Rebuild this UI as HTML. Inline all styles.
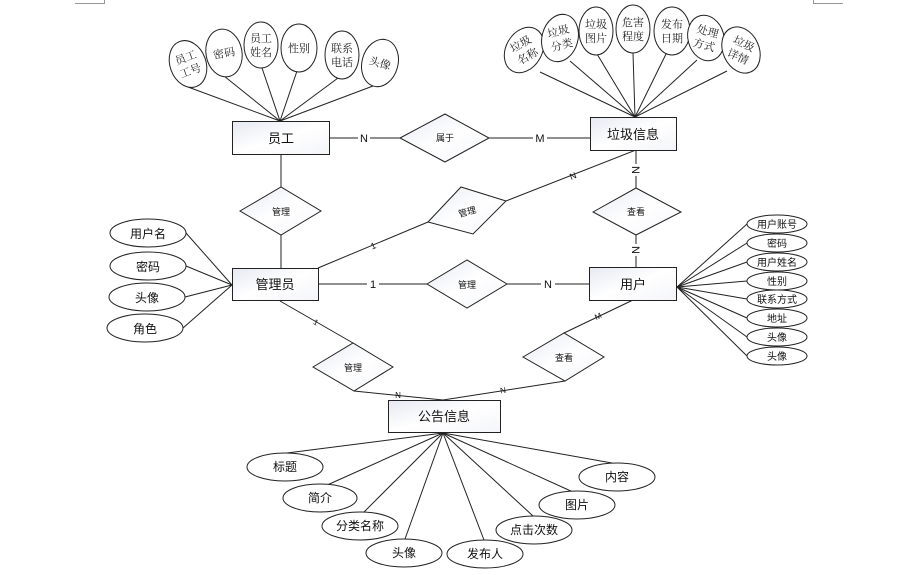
<!DOCTYPE html>
<html><head><meta charset="utf-8"><style>
html,body{margin:0;padding:0;background:#fff;}
svg{display:block;font-family:"Liberation Sans","Noto Sans CJK SC",sans-serif;}
</style></head><body>
<svg width="900" height="575" viewBox="0 0 900 575" xmlns="http://www.w3.org/2000/svg">
<defs>
<linearGradient id="g" x1="0" y1="0" x2="1" y2="1">
<stop offset="0" stop-color="#e6e9f2"/><stop offset="0.5" stop-color="#ffffff"/><stop offset="1" stop-color="#f4f5f9"/>
</linearGradient>
</defs>
<g stroke="#999" stroke-width="1" fill="none">
<polyline points="75,3.5 104.5,3.5 104.5,0"/>
<polyline points="813.5,0 813.5,3.5 843,3.5"/>
</g>
<g stroke="#222" stroke-width="1" fill="none">
<!-- employee fan -->
<line x1="188" y1="87" x2="280" y2="121"/><line x1="224" y1="76" x2="280" y2="121"/>
<line x1="262" y1="68" x2="280" y2="121"/><line x1="297" y1="71" x2="280" y2="121"/>
<line x1="338" y1="78" x2="280" y2="121"/><line x1="373" y1="86" x2="280" y2="121"/>
<!-- garbage fan -->
<line x1="540" y1="72" x2="635" y2="117"/><line x1="570" y1="61" x2="635" y2="117"/>
<line x1="597" y1="54" x2="635" y2="117"/><line x1="633" y1="53" x2="635" y2="117"/>
<line x1="666" y1="54" x2="635" y2="117"/><line x1="697" y1="60" x2="635" y2="117"/>
<line x1="727" y1="71" x2="635" y2="117"/>
<!-- relations -->
<line x1="329" y1="138" x2="400" y2="138"/><line x1="489" y1="138" x2="590" y2="138"/>
<line x1="636" y1="150" x2="636" y2="188"/><line x1="636" y1="235" x2="636" y2="267"/>
<line x1="281" y1="154" x2="281" y2="187"/><line x1="281" y1="235" x2="281" y2="268"/>
<line x1="318" y1="268" x2="428" y2="222"/><line x1="506" y1="201" x2="636" y2="150"/>
<line x1="318" y1="284" x2="427" y2="284"/><line x1="507" y1="284" x2="589" y2="284"/>
<line x1="280" y1="301" x2="353" y2="343"/><line x1="354" y1="391" x2="443" y2="400"/>
<line x1="565" y1="381" x2="443" y2="400"/><line x1="564" y1="333" x2="633" y2="300"/>
<!-- admin attrs -->
<line x1="186" y1="233" x2="232" y2="285"/><line x1="186" y1="266" x2="232" y2="285"/>
<line x1="185" y1="297" x2="232" y2="285"/><line x1="183" y1="328" x2="232" y2="285"/>
<!-- user attrs -->
<line x1="747" y1="224" x2="677" y2="287"/><line x1="747" y1="243" x2="677" y2="287"/>
<line x1="747" y1="262" x2="677" y2="287"/><line x1="747" y1="281" x2="677" y2="287"/>
<line x1="747" y1="299" x2="677" y2="287"/><line x1="747" y1="318" x2="677" y2="287"/>
<line x1="747" y1="337" x2="677" y2="287"/><line x1="747" y1="356" x2="677" y2="287"/>
<!-- notice fan -->
<line x1="287" y1="453" x2="443" y2="433"/><line x1="325" y1="486" x2="443" y2="433"/>
<line x1="363" y1="513" x2="443" y2="433"/><line x1="405" y1="539" x2="443" y2="433"/>
<line x1="484" y1="540" x2="443" y2="433"/><line x1="533" y1="516" x2="443" y2="433"/>
<line x1="573" y1="492" x2="443" y2="433"/><line x1="612" y1="463" x2="443" y2="433"/>
</g>
<!-- entities -->
<g stroke="#222" stroke-width="1" fill="url(#g)">
<rect x="232.5" y="121.5" width="97" height="33"/>
<rect x="590.5" y="117.5" width="86" height="33"/>
<rect x="589.5" y="267.5" width="87" height="33"/>
<rect x="232.5" y="268.5" width="86" height="32"/>
<rect x="388.5" y="400.5" width="112" height="32"/>
<polygon points="400,138 445,114 489,138 445,162"/>
<polygon points="593,212 636,188 681,212 636,235"/>
<polygon points="240,211 281,187 321,211 281,235"/>
<polygon points="428,222 461,187 506,201 473,234"/>
<polygon points="427,284 467,260 507,284 467,308"/>
<polygon points="313,367 353,343 393,367 354,391"/>
<polygon points="523,357 564,333 604,357 565,381"/>
</g>
<!-- ellipses -->
<g stroke="#222" stroke-width="1" fill="#fff">
<ellipse cx="188" cy="64" rx="18" ry="24" transform="rotate(-20 188 64)"/>
<ellipse cx="224" cy="53" rx="18" ry="24" transform="rotate(-10 224 53)"/>
<ellipse cx="261" cy="45" rx="17" ry="23"/>
<ellipse cx="299" cy="48" rx="18" ry="24"/>
<ellipse cx="342" cy="55" rx="17" ry="24"/>
<ellipse cx="380" cy="63" rx="18" ry="24" transform="rotate(15 380 63)"/>
<ellipse cx="524" cy="50" rx="18" ry="24" transform="rotate(30 524 50)"/>
<ellipse cx="560" cy="38" rx="18" ry="24" transform="rotate(15 560 38)"/>
<ellipse cx="596" cy="31" rx="17" ry="24"/>
<ellipse cx="633" cy="29" rx="17" ry="24"/>
<ellipse cx="672" cy="31" rx="18" ry="24"/>
<ellipse cx="706" cy="38" rx="18" ry="23" transform="rotate(-15 706 38)"/>
<ellipse cx="741" cy="50" rx="18" ry="24" transform="rotate(-25 741 50)"/>
<ellipse cx="148" cy="233" rx="38" ry="14"/>
<ellipse cx="148" cy="266" rx="38" ry="14"/>
<ellipse cx="147" cy="297" rx="38" ry="14"/>
<ellipse cx="145" cy="328" rx="38" ry="14"/>
<ellipse cx="777" cy="224" rx="30" ry="9"/><ellipse cx="777" cy="243" rx="30" ry="9"/>
<ellipse cx="777" cy="262" rx="30" ry="9"/><ellipse cx="777" cy="281" rx="30" ry="9"/>
<ellipse cx="777" cy="299" rx="30" ry="9"/><ellipse cx="777" cy="318" rx="30" ry="9"/>
<ellipse cx="777" cy="337" rx="30" ry="9"/><ellipse cx="777" cy="356" rx="30" ry="9"/>
<ellipse cx="285" cy="467" rx="38" ry="14"/><ellipse cx="320" cy="498" rx="37" ry="14"/>
<ellipse cx="360" cy="526" rx="38" ry="14"/><ellipse cx="404" cy="553" rx="38" ry="14"/>
<ellipse cx="485" cy="554" rx="38" ry="14"/><ellipse cx="534" cy="530" rx="38" ry="14"/>
<ellipse cx="577" cy="505" rx="38" ry="14"/><ellipse cx="617" cy="477" rx="38" ry="14"/>
</g>
<!-- cardinality labels (bg) -->
<g fill="#fff">
<rect x="358" y="131" width="12" height="14"/><rect x="533" y="131" width="14" height="14"/>
<rect x="367" y="278" width="12" height="14"/><rect x="541" y="278" width="14" height="14"/>
<rect x="630" y="164" width="12" height="12"/><rect x="630" y="244" width="12" height="12"/>
</g>
<g fill="#111" font-size="11" text-anchor="middle">
<text x="364" y="142">N</text><text x="540" y="142">M</text>
<text x="373" y="288">1</text><text x="548" y="288">N</text>
<text x="636" y="174" transform="rotate(90 636 170)">N</text>
<text x="636" y="254" transform="rotate(90 636 250)">N</text>
<text x="373" y="249" font-size="9" transform="rotate(-22 373 245)">1</text>
<text x="573" y="179" font-size="9" transform="rotate(-22 573 176)">N</text>
<text x="316" y="325" font-size="8" transform="rotate(30 316 322)">1</text>
<text x="398" y="398" font-size="8">N</text>
<text x="503" y="393" font-size="8" transform="rotate(-8 503 390)">N</text>
<text x="598" y="319" font-size="8" transform="rotate(-25 598 316)">M</text>
</g>
<!-- entity text -->
<g fill="#111" font-size="13" text-anchor="middle">
<text x="281" y="143">员工</text>
<text x="633" y="139">垃圾信息</text>
<text x="633" y="289">用户</text>
<text x="275" y="289">管理员</text>
<text x="444" y="421">公告信息</text>
</g>
<g fill="#111" font-size="9" text-anchor="middle">
<text x="445" y="141">属于</text>
<text x="636" y="215">查看</text>
<text x="281" y="215">管理</text>
<text x="467" y="215" transform="rotate(-15 467 211)">管理</text>
<text x="467" y="288">管理</text>
<text x="353" y="371">管理</text>
<text x="564" y="361">查看</text>
</g>
<g fill="#111" font-size="12" text-anchor="middle">
<text x="148" y="238">用户名</text><text x="148" y="271">密码</text>
<text x="147" y="302">头像</text><text x="145" y="333">角色</text>
<text x="285" y="471">标题</text><text x="320" y="502">简介</text>
<text x="360" y="530">分类名称</text><text x="404" y="557">头像</text>
<text x="485" y="558">发布人</text><text x="534" y="534">点击次数</text>
<text x="577" y="509">图片</text><text x="617" y="481">内容</text>
</g>
<g fill="#111" font-size="10" text-anchor="middle">
<text x="777" y="228">用户账号</text><text x="777" y="247">密码</text>
<text x="777" y="266">用户姓名</text><text x="777" y="285">性别</text>
<text x="777" y="303">联系方式</text><text x="777" y="322">地址</text>
<text x="777" y="341">头像</text><text x="777" y="360">头像</text>
</g>
<g fill="#222" font-size="11" text-anchor="middle" font-family="'Liberation Serif','Noto Serif CJK SC',serif">
<g transform="rotate(-20 188 64)"><text x="188" y="61">员工</text><text x="188" y="75">工号</text></g>
<g transform="rotate(-10 224 53)"><text x="224" y="57">密码</text></g>
<text x="261" y="42">员工</text><text x="261" y="56">姓名</text>
<text x="299" y="52">性别</text>
<text x="342" y="52">联系</text><text x="342" y="66">电话</text>
<g transform="rotate(15 380 63)"><text x="380" y="67">头像</text></g>
<g transform="rotate(-30 524 50)"><text x="524" y="47">垃圾</text><text x="524" y="61">名称</text></g>
<g transform="rotate(-15 560 38)"><text x="560" y="35">垃圾</text><text x="560" y="49">分类</text></g>
<text x="596" y="28">垃圾</text><text x="596" y="42">图片</text>
<text x="633" y="26">危害</text><text x="633" y="40">程度</text>
<text x="672" y="28">发布</text><text x="672" y="42">日期</text>
<g transform="rotate(15 706 38)"><text x="706" y="35">处理</text><text x="706" y="49">方式</text></g>
<g transform="rotate(25 741 50)"><text x="741" y="47">垃圾</text><text x="741" y="61">详情</text></g>
</g>
</svg>
</body></html>
